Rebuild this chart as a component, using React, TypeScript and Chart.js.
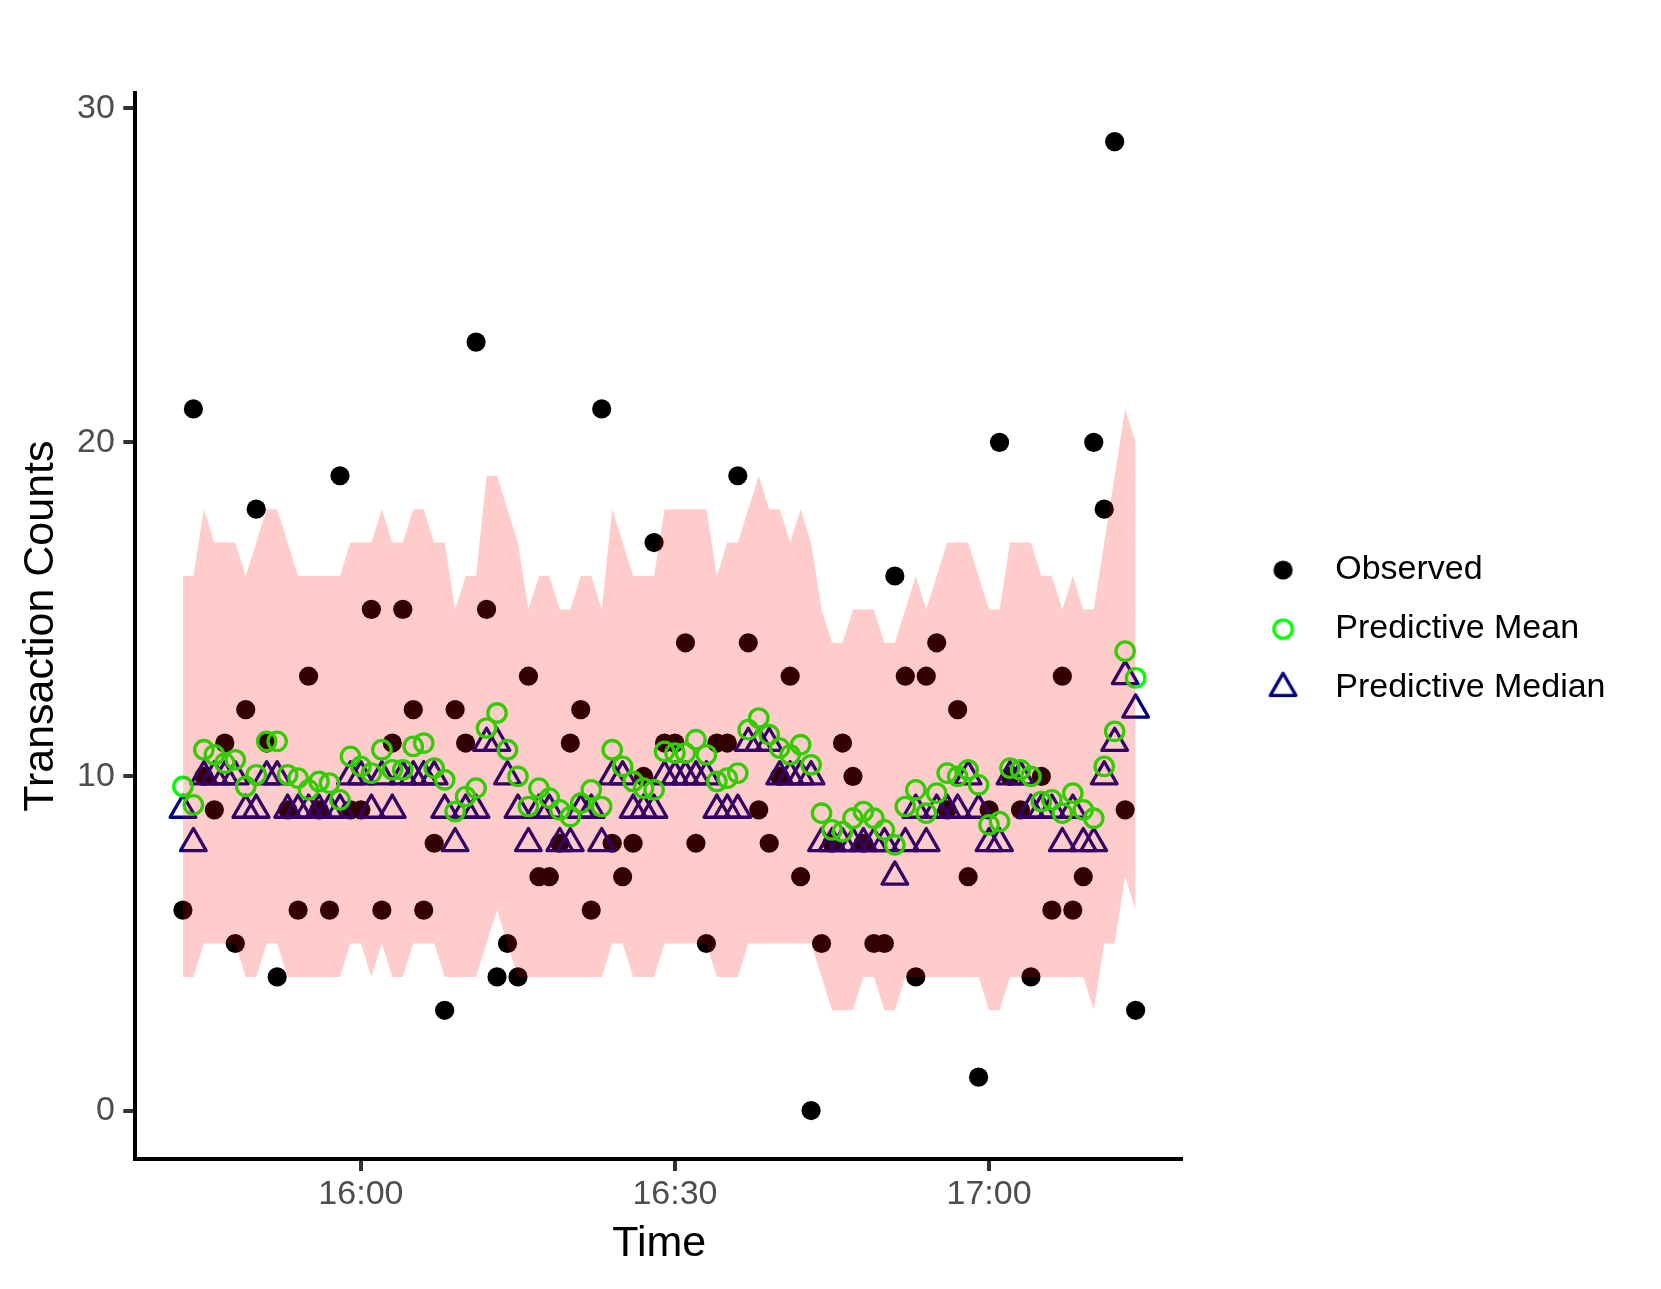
import React, { useEffect, useRef } from "react";
import { Chart, registerables } from "chart.js";

Chart.register(...registerables);

// ---- data ----
const times = [
  "15:43", "15:44", "15:45", "15:46", "15:47", "15:48", "15:49", "15:50", "15:51", "15:52",
  "15:53", "15:54", "15:55", "15:56", "15:57", "15:58", "15:59", "16:00", "16:01", "16:02",
  "16:03", "16:04", "16:05", "16:06", "16:07", "16:08", "16:09", "16:10", "16:11", "16:12",
  "16:13", "16:14", "16:15", "16:16", "16:17", "16:18", "16:19", "16:20", "16:21", "16:22",
  "16:23", "16:24", "16:25", "16:26", "16:27", "16:28", "16:29", "16:30", "16:31", "16:32",
  "16:33", "16:34", "16:35", "16:36", "16:37", "16:38", "16:39", "16:40", "16:41", "16:42",
  "16:43", "16:44", "16:45", "16:46", "16:47", "16:48", "16:49", "16:50", "16:51", "16:52",
  "16:53", "16:54", "16:55", "16:56", "16:57", "16:58", "16:59", "17:00", "17:01", "17:02",
  "17:03", "17:04", "17:05", "17:06", "17:07", "17:08", "17:09", "17:10", "17:11", "17:12",
  "17:13", "17:14",
];

const observed = [
  6, 21, 10, 9, 11, 5, 12, 18, 11, 4,
  9, 6, 13, 9, 6, 19, 9, 9, 15, 6,
  11, 15, 12, 6, 8, 3, 12, 11, 23, 15,
  4, 5, 4, 13, 7, 7, 8, 11, 12, 6,
  21, 8, 7, 8, 10, 17, 11, 11, 14, 8,
  5, 11, 11, 19, 14, 9, 8, 10, 13, 7,
  0, 5, 8, 11, 10, 8, 5, 5, 16, 13,
  4, 13, 14, 9, 12, 7, 1, 9, 20, 10,
  9, 4, 10, 6, 13, 6, 7, 20, 18, 29,
  9, 3,
];

const predictiveMean = [
  9.7, 9.15, 10.8, 10.65, 10.4, 10.5, 9.7, 10.05, 11.05, 11.05,
  10.05, 9.95, 9.6, 9.85, 9.8, 9.3, 10.6, 10.3, 10.1, 10.8,
  10.2, 10.2, 10.9, 11.0, 10.25, 9.9, 8.95, 9.4, 9.65, 11.45,
  11.9, 10.8, 10.0, 9.1, 9.65, 9.35, 9.0, 8.8, 9.2, 9.6,
  9.1, 10.8, 10.3, 9.85, 9.65, 9.6, 10.75, 10.7, 10.7, 11.1,
  10.65, 9.85, 9.95, 10.1, 11.4, 11.75, 11.25, 10.85, 10.65, 10.95,
  10.35, 8.9, 8.4, 8.35, 8.75, 8.95, 8.75, 8.4, 7.95, 9.1,
  9.6, 8.9, 9.5, 10.1, 10.0, 10.2, 9.75, 8.55, 8.65, 10.25,
  10.2, 10.0, 9.25, 9.3, 8.9, 9.5, 9.0, 8.75, 10.3, 11.35,
  13.75, 12.95,
];

const predictiveMedian = [
  9, 8, 10, 10, 10, 10, 9, 9, 10, 10,
  9, 9, 9, 9, 9, 9, 10, 10, 9, 10,
  9, 10, 10, 10, 10, 9, 8, 9, 9, 11,
  11, 10, 9, 8, 9, 9, 8, 8, 9, 9,
  8, 10, 10, 9, 9, 9, 10, 10, 10, 10,
  10, 9, 9, 9, 11, 11, 11, 10, 10, 10,
  10, 8, 8, 8, 8, 8, 8, 8, 7, 8,
  9, 8, 9, 9, 9, 10, 9, 8, 8, 10,
  10, 9, 9, 9, 8, 9, 8, 8, 10, 11,
  13, 12,
];

const intervalLower = [
  4, 4, 5, 5, 5, 5, 4, 4, 5, 5,
  4, 4, 4, 4, 4, 4, 5, 5, 4, 5,
  4, 4, 5, 5, 5, 4, 4, 4, 4, 5,
  6, 5, 4, 4, 4, 4, 4, 4, 4, 4,
  4, 5, 5, 4, 4, 4, 5, 5, 5, 5,
  5, 4, 4, 4, 5, 5, 5, 5, 5, 5,
  5, 4, 3, 3, 3, 4, 4, 3, 3, 4,
  4, 4, 4, 4, 4, 4, 4, 3, 3, 4,
  4, 4, 4, 4, 4, 4, 4, 3, 5, 5,
  7, 6,
];

const intervalUpper = [
  16, 16, 18, 17, 17, 17, 16, 17, 18, 18,
  17, 16, 16, 16, 16, 16, 17, 17, 17, 18,
  17, 17, 18, 18, 17, 17, 15, 16, 16, 19,
  19, 18, 17, 15, 16, 16, 15, 15, 16, 16,
  15, 18, 17, 16, 16, 16, 18, 18, 18, 18,
  18, 16, 17, 17, 18, 19, 18, 18, 17, 18,
  17, 15, 14, 14, 15, 15, 15, 14, 14, 15,
  16, 15, 16, 17, 17, 17, 16, 15, 15, 17,
  17, 17, 16, 16, 15, 16, 15, 15, 17, 19,
  21, 20,
];

const xTickLabels = ["16:00", "16:30", "17:00"];
const yTickValues = [0, 10, 20, 30];
const seriesNames = ["Observed", "Predictive Mean", "Predictive Median"];

const FONT = '"Liberation Sans", Arial, Helvetica, sans-serif';
const COL_OBS = "#000000";
const COL_MEAN = "#00FF00";
const COL_MED = "#000080";
const COL_RIBBON = "rgba(255,0,0,0.2)";

const toMinutes = (t: string) => {
  const [h, m] = t.split(":").map(Number);
  return h * 60 + m;
};

function makeMarker(kind: string, offsetX: number): HTMLCanvasElement {
  const c = document.createElement("canvas");
  c.width = 110;
  c.height = 44;
  const g = c.getContext("2d")!;
  const cx = c.width / 2 + offsetX;
  const cy = c.height / 2;
  g.lineJoin = "round";
  if (kind === "obs") {
    g.fillStyle = COL_OBS;
    g.beginPath();
    g.arc(cx, cy, 9.6, 0, Math.PI * 2);
    g.fill();
  } else if (kind === "mean") {
    g.strokeStyle = COL_MEAN;
    g.lineWidth = 3.3;
    g.beginPath();
    g.arc(cx, cy, 9.2, 0, Math.PI * 2);
    g.stroke();
  } else {
    const r = 14.8;
    g.strokeStyle = COL_MED;
    g.lineWidth = 3.3;
    g.beginPath();
    for (let k = 0; k < 3; k++) {
      const a = (k * 2 * Math.PI) / 3;
      const px = cx + Math.sin(a) * r;
      const py = cy - Math.cos(a) * r;
      if (k === 0) g.moveTo(px, py);
      else g.lineTo(px, py);
    }
    g.closePath();
    g.stroke();
  }
  return c;
}

const roundJoin = {
  id: "roundJoin",
  beforeDatasetsDraw(chart: any) {
    chart.ctx.lineJoin = "round";
  },
};

export default function App() {
  const ref = useRef<HTMLCanvasElement>(null);

  useEffect(() => {
    const canvas = ref.current!;
    const xs = times.map(toMinutes);
    const pts = (arr: number[]) => xs.map((x, i) => ({ x, y: arr[i] }));

    const xLo = Math.min(...xs);
    const xHi = Math.max(...xs);
    const xPad = (xHi - xLo) * 0.05;
    const allY = [...observed, ...predictiveMean, ...predictiveMedian, ...intervalLower, ...intervalUpper];
    const yLo = Math.min(...allY);
    const yHi = Math.max(...allY);
    const yPad = (yHi - yLo) * 0.05;

    const markerOffset = 19.8;
    const markers = [makeMarker("obs", markerOffset), makeMarker("mean", markerOffset), makeMarker("med", markerOffset)];

    const chart = new Chart(canvas, {
      type: "scatter",
      data: {
        datasets: [
          {
            label: seriesNames[0],
            data: pts(observed),
            pointStyle: "circle",
            pointRadius: 9.6,
            pointBackgroundColor: COL_OBS,
            pointBorderWidth: 0,
            pointBorderColor: "rgba(0,0,0,0)",
            order: 4,
          } as any,
          {
            label: seriesNames[2],
            data: pts(predictiveMedian),
            pointStyle: "triangle",
            pointRadius: 14.8,
            pointBackgroundColor: "rgba(0,0,0,0)",
            pointBorderColor: COL_MED,
            pointBorderWidth: 3.3,
            order: 3,
          } as any,
          {
            label: seriesNames[1],
            data: pts(predictiveMean),
            pointStyle: "circle",
            pointRadius: 9.2,
            pointBackgroundColor: "rgba(0,0,0,0)",
            pointBorderColor: COL_MEAN,
            pointBorderWidth: 3.3,
            order: 2,
          } as any,
          {
            type: "line",
            label: "upper",
            data: pts(intervalUpper),
            pointRadius: 0,
            borderWidth: 0,
            borderColor: "rgba(0,0,0,0)",
            backgroundColor: COL_RIBBON,
            fill: "+1",
            tension: 0,
            order: 1,
          } as any,
          {
            type: "line",
            label: "lower",
            data: pts(intervalLower),
            pointRadius: 0,
            borderWidth: 0,
            borderColor: "rgba(0,0,0,0)",
            backgroundColor: "rgba(0,0,0,0)",
            fill: false,
            tension: 0,
            order: 1,
          } as any,
        ],
      },
      options: {
        responsive: false,
        animation: false,
        devicePixelRatio: 1,
        events: [],
        layout: { padding: { top: 85.2, left: 0, bottom: 0, right: 37.5 } },
        scales: {
          x: {
            type: "linear",
            min: xLo - xPad,
            max: xHi + xPad,
            afterBuildTicks: (scale: any) => {
              scale.ticks = xTickLabels.map((t) => ({ value: toMinutes(t) }));
            },
            afterFit: (scale: any) => {
              scale.height = 122;
            },
            ticks: {
              callback: (_v: any, i: number) => xTickLabels[i],
              color: "#4D4D4D",
              font: { family: FONT, size: 34 },
              padding: 3,
              maxRotation: 0,
              autoSkip: false,
            },
            grid: {
              display: true,
              drawOnChartArea: false,
              drawTicks: true,
              tickLength: 12,
              tickWidth: 4,
              tickColor: "#333333",
              lineWidth: 0,
            },
            border: { display: true, width: 4, color: "#000000" },
            title: {
              display: true,
              text: "Time",
              color: "#000000",
              font: { family: FONT, size: 43 },
              padding: { top: 0, bottom: 11 },
            },
          },
          y: {
            type: "linear",
            min: yLo - yPad,
            max: yHi + yPad,
            afterBuildTicks: (scale: any) => {
              scale.ticks = yTickValues.map((v) => ({ value: v }));
            },
            afterFit: (scale: any) => {
              scale.width = 127.3;
            },
            ticks: {
              callback: (v: any) => String(v),
              color: "#4D4D4D",
              font: { family: FONT, size: 34 },
              padding: 8.5,
              autoSkip: false,
            },
            grid: {
              display: true,
              drawOnChartArea: false,
              drawTicks: true,
              tickLength: 12,
              tickWidth: 4,
              tickColor: "#333333",
              lineWidth: 0,
            },
            border: { display: true, width: 4, color: "#000000" },
            title: {
              display: true,
              text: "Transaction Counts",
              color: "#000000",
              font: { family: FONT, size: 43 },
              padding: { top: 7, bottom: 0 },
            },
          },
        },
        plugins: {
          tooltip: { enabled: false },
          legend: {
            display: true,
            position: "right",
            align: "center",
            fullSize: false,
            maxWidth: 700,
            onClick: () => {},
            title: {
              display: true,
              text: " ",
              font: { family: FONT, size: 6, lineHeight: 1 },
              padding: 0,
            },
            labels: {
              usePointStyle: true,
              pointStyleWidth: 110,
              padding: 25,
              color: "#000000",
              font: { family: FONT, size: 34 },
              generateLabels: () =>
                [0, 1, 2].map((k) => ({
                  text: seriesNames[k],
                  fillStyle: "rgba(0,0,0,0)",
                  strokeStyle: "rgba(0,0,0,0)",
                  lineWidth: 0,
                  pointStyle: markers[k],
                  hidden: false,
                  fontColor: "#000000",
                  datasetIndex: k,
                })) as any,
            },
          },
        },
      } as any,
      plugins: [roundJoin],
    });

    return () => chart.destroy();
  }, []);

  return (
    <div style={{ width: 1645, height: 1273 }}>
      <canvas ref={ref} width={1645} height={1273} style={{ display: "block", width: 1645, height: 1273 }} />
    </div>
  );
}
